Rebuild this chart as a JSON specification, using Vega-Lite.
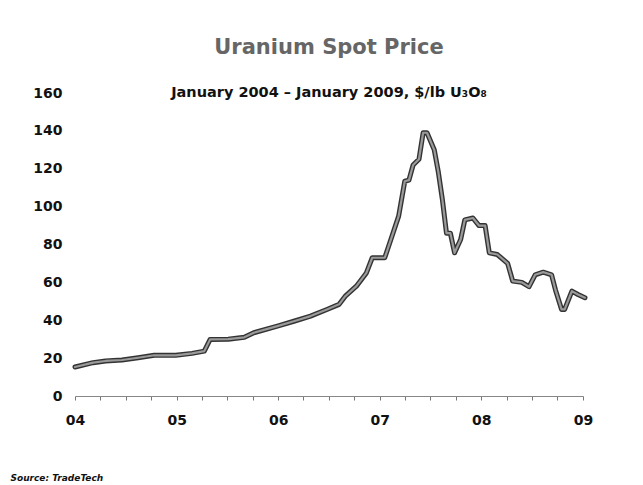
{
  "$schema": "https://vega.github.io/schema/vega-lite/v6.json",
  "autosize": {"type": "none"},
  "padding": {"left": 75, "top": 93, "right": 60, "bottom": 89},
  "width": 508,
  "height": 303,
  "background": "white",
  "config": {"view": {"stroke": null}},
  "title": {
    "text": "Uranium Spot Price",
    "subtitle": "January 2004 – January 2009, $/lb U₃O₈",
    "anchor": "middle",
    "font": "DejaVu Sans",
    "fontSize": 21,
    "fontWeight": "bold",
    "color": "#666666",
    "subtitleFont": "DejaVu Sans",
    "subtitleFontSize": 14.5,
    "subtitleFontWeight": "bold",
    "subtitleColor": "#111111",
    "subtitlePadding": 28,
    "offset": -13
  },
  "data": {
    "values": [
      {"date": "2004-01-01", "price": 15.3},
      {"date": "2004-03-06", "price": 17.6},
      {"date": "2004-04-20", "price": 18.5},
      {"date": "2004-06-18", "price": 19.0},
      {"date": "2004-08-15", "price": 20.2},
      {"date": "2004-10-12", "price": 21.5},
      {"date": "2004-12-28", "price": 21.5},
      {"date": "2005-02-25", "price": 22.5},
      {"date": "2005-04-10", "price": 23.7},
      {"date": "2005-05-01", "price": 29.9},
      {"date": "2005-07-05", "price": 30.0},
      {"date": "2005-09-01", "price": 31.0},
      {"date": "2005-10-05", "price": 33.4},
      {"date": "2006-01-01", "price": 37.0},
      {"date": "2006-03-01", "price": 39.6},
      {"date": "2006-04-27", "price": 42.2},
      {"date": "2006-06-25", "price": 45.7},
      {"date": "2006-08-08", "price": 48.4},
      {"date": "2006-08-30", "price": 52.7},
      {"date": "2006-10-09", "price": 58.0},
      {"date": "2006-11-14", "price": 65.0},
      {"date": "2006-12-05", "price": 73.0},
      {"date": "2007-01-19", "price": 73.0},
      {"date": "2007-02-10", "price": 82.6},
      {"date": "2007-03-10", "price": 95.0},
      {"date": "2007-04-01", "price": 113.4},
      {"date": "2007-04-16", "price": 114.0},
      {"date": "2007-05-01", "price": 122.0},
      {"date": "2007-05-22", "price": 125.0},
      {"date": "2007-06-06", "price": 139.0},
      {"date": "2007-06-20", "price": 139.0},
      {"date": "2007-07-16", "price": 130.0},
      {"date": "2007-07-31", "price": 118.0},
      {"date": "2007-08-14", "price": 104.0},
      {"date": "2007-08-29", "price": 86.0},
      {"date": "2007-09-12", "price": 86.0},
      {"date": "2007-09-27", "price": 75.6},
      {"date": "2007-10-19", "price": 82.6},
      {"date": "2007-11-03", "price": 93.0},
      {"date": "2007-12-02", "price": 94.0},
      {"date": "2007-12-24", "price": 90.0},
      {"date": "2008-01-15", "price": 90.0},
      {"date": "2008-01-30", "price": 75.6},
      {"date": "2008-02-28", "price": 74.7},
      {"date": "2008-04-05", "price": 70.0},
      {"date": "2008-04-23", "price": 60.7},
      {"date": "2008-05-26", "price": 60.0},
      {"date": "2008-06-21", "price": 57.7},
      {"date": "2008-07-13", "price": 64.0},
      {"date": "2008-08-11", "price": 65.4},
      {"date": "2008-09-10", "price": 64.0},
      {"date": "2008-09-24", "price": 56.0},
      {"date": "2008-10-16", "price": 45.7},
      {"date": "2008-10-27", "price": 45.7},
      {"date": "2008-11-22", "price": 55.4},
      {"date": "2008-12-14", "price": 53.6},
      {"date": "2009-01-08", "price": 51.9}
    ]
  },
  "encoding": {
    "x": {
      "field": "date",
      "type": "temporal",
      "scale": {
        "type": "utc",
        "domain": [
          {"year": 2004, "month": 1, "date": 1, "utc": true},
          {"year": 2009, "month": 1, "date": 1, "utc": true}
        ]
      },
      "axis": {
        "tickCount": {"interval": "month", "step": 3},
        "labelExpr": "utcmonth(datum.value) == 0 ? utcFormat(datum.value, '%y') : ''",
        "labelOverlap": false,
        "labelFlush": false,
        "labelAlign": "center",
        "labelFont": "DejaVu Sans",
        "labelFontSize": 14,
        "labelFontWeight": "bold",
        "labelColor": "#111111",
        "labelPadding": 13,
        "tickSize": 4,
        "tickColor": "#777777",
        "domainColor": "#888888",
        "domainWidth": 1,
        "grid": false,
        "title": "Source: TradeTech",
        "titleFont": "DejaVu Sans",
        "titleFontSize": 9,
        "titleFontWeight": "bold",
        "titleFontStyle": "italic",
        "titleColor": "#111111",
        "titleAnchor": "start",
        "titleAlign": "left",
        "titleBaseline": "middle",
        "titleX": -65,
        "titleY": 81
      }
    },
    "y": {
      "field": "price",
      "type": "quantitative",
      "scale": {"domain": [0, 160], "nice": false},
      "axis": {
        "values": [0, 20, 40, 60, 80, 100, 120, 140, 160],
        "labelFont": "DejaVu Sans",
        "labelFontSize": 14,
        "labelFontWeight": "bold",
        "labelColor": "#111111",
        "labelPadding": 13,
        "ticks": false,
        "domain": false,
        "grid": false,
        "title": null
      }
    }
  },
  "layer": [
    {"mark": {"type": "line", "color": "#333333", "strokeWidth": 5, "strokeJoin": "round", "strokeCap": "round"}},
    {"mark": {"type": "line", "color": "#9a9a9a", "strokeWidth": 2.2, "strokeJoin": "round", "strokeCap": "round"}}
  ]
}
